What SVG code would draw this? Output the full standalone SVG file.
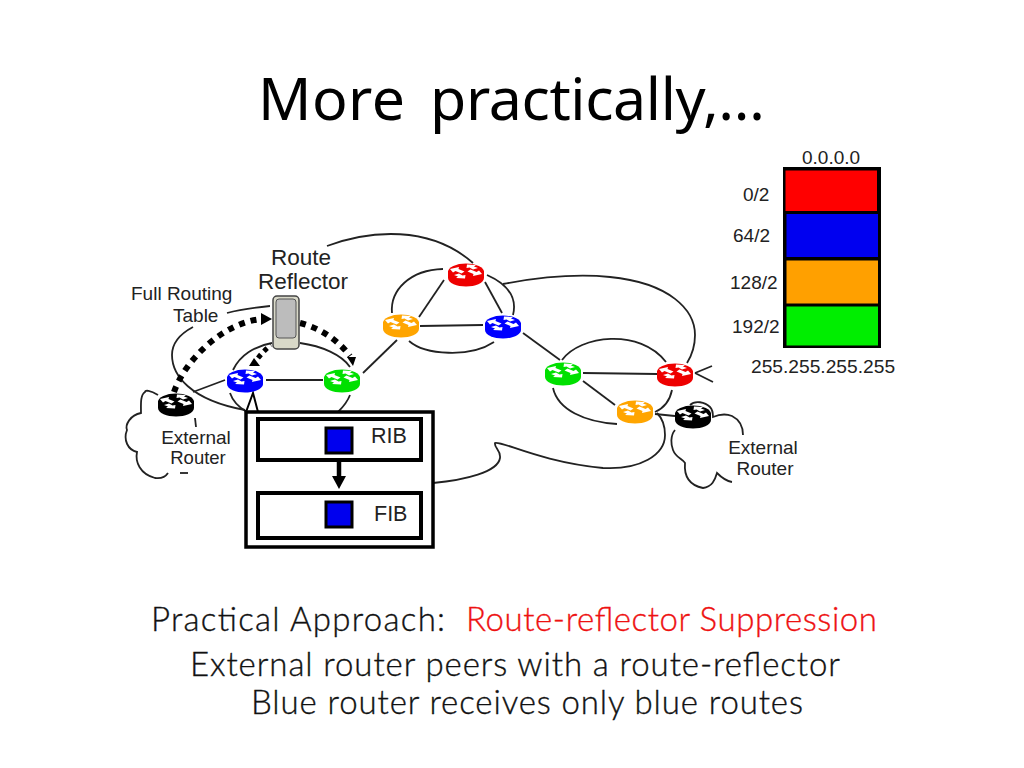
<svg xmlns="http://www.w3.org/2000/svg" width="1024" height="768" viewBox="0 0 1024 768">
<style>
.l{font-family:"Liberation Sans",Arial,sans-serif;fill:#222}
.s{font-size:19px}
.b{font-family:Lato,"Noto Sans",sans-serif;font-size:33px;font-weight:300;fill:#111;stroke:#111;stroke-width:0.350}
.c{fill:none;stroke:#222;stroke-width:1.800}
.d{fill:none;stroke:#000;stroke-width:6;stroke-dasharray:6 6}
.h{fill:#000}
</style>
<defs>
<g id="router">
<path d="M-18,-4 V3 C-18,8 -9,11.500 0,11.500 C9,11.500 18,8 18,3 V-4 Z" fill="currentColor"/>
<ellipse cx="0" cy="-3" rx="18" ry="8.500" fill="currentColor"/>
<path d="M-16,-6 L-7,-8 L-7.500,-6 L-1.500,-3.500 L-4.500,-1.500 L-10.500,-4 L-13,-2.500 Z M16,-1 L7,1 L7.500,-1 L1.500,-3.500 L4.500,-5.500 L10.500,-3 L13,-4.500 Z M1,-10.500 L10,-10 L8,-8.500 L12,-7 L7,-5.500 L3.500,-7.500 L0.500,-7 Z M-1,3.500 L-10,3 L-8,1.500 L-12,0 L-7,-1.500 L-3.500,0.500 L-0.500,0 Z" fill="#fff"/>
</g>
</defs>
<text font-family="'Noto Sans','Open Sans',sans-serif" font-size="59" fill="#000" y="120"><tspan x="258" textLength="147" lengthAdjust="spacing">More</tspan> <tspan x="430" textLength="335" lengthAdjust="spacing">practically,…</tspan></text>
<g id="connectors">
<path class="c" d="M327,246 C370,230 430,225 473,263"/>
<path class="c" d="M392,313 C390,290 410,270 443,269"/>
<path class="c" d="M419,317 L444,280"/>
<path class="c" d="M420,326 L483,325"/>
<path class="c" d="M485,282 L502,313"/>
<path class="c" d="M487,275 C505,283 518,295 513,315"/>
<path class="c" d="M409,341 C425,355 470,358 494,342"/>
<path class="c" d="M503,284 C540,277 580,274 610,277 C670,283 695,310 695,335 C695,345 692,355 687,363"/>
<path class="c" d="M523,333 L560,360"/>
<path class="c" d="M562,360 C580,335 640,328 666,362"/>
<path class="c" d="M583,373 L657,374"/>
<path class="c" d="M583,381 L615,405"/>
<path class="c" d="M553,388 C558,410 585,422 617,424"/>
<path class="c" d="M672,390 C670,400 664,408 655,412"/>
<path class="c" d="M655,414 L675,416"/>
<path class="c" d="M695,373 L712,366 M695,373 L713,382"/>
<path class="c" d="M433,483 C465,480 498,472 500,458 C501,450 494,448 495,443 C500,440 540,462 603,468 C640,470 665,455 665,435 C665,425 662,418 657,413"/>
<path class="c" d="M363,373 L397,340"/>
<path class="c" d="M266,380 L323,380"/>
<path class="c" d="M193,392 L225,380"/>
<path class="c" d="M233,370 C240,355 255,346 272,343"/>
<path class="c" d="M300,343 C322,346 342,355 350,367"/>
<path class="c" d="M230,393 C233,402 240,408 247,412"/>
<path class="c" d="M350,395 C347,403 342,408 338,412"/>
<path class="c" d="M270,306 C250,308 238,310 227,313"/>
<path class="c" d="M193,327 C178,335 172,345 172,355 C172,375 190,400 245,410"/>
<path class="c" d="M195,418 L196,427"/>
<path class="c" d="M158,395 C150,390 145,390 145,392 C140,395 141,405 141,413 C130,415 125,425 127,430 C123,440 128,450 137,452 C135,462 140,474 155,478 C162,479 166,476 168,473"/>
<path class="c" d="M180,473 L188,473"/>
<path class="c" d="M675,430 C670,436 671,445 673,450 C676,458 682,458 685,463 C684,475 688,485 703,488 C712,487 715,480 717,473 C722,478 726,481 732,482"/>
<path class="c" d="M690,405 C695,400 705,402 710,407 C713,410 713,414 713,417 C720,414 727,414 732,416 C740,420 743,428 743,435"/>
<path class="d" d="M174,392 C186,358 225,322 262,319"/>
<path class="h" d="M261,313 L272,319 L261,325 Z"/>
<path class="d" d="M300,323 C320,328 338,340 350,356"/>
<path class="h" d="M347,357 L356,357 L353,366 Z"/>
<path class="d" d="M258,358 C262,353 266,349 271,345" style="stroke-width:5;stroke-dasharray:4.500 4.500"/>
<path class="h" d="M249,366 L254,358 L260,366 Z"/>
<path class="c" d="M246,412 L253,393 L258,412" style="stroke:#000;stroke-width:2"/>
</g>
<g id="route-reflector">
<rect x="273" y="296" width="26" height="53" rx="4" fill="#d8d8c8" stroke="#444" stroke-width="1.500"/>
<rect x="276" y="299" width="20" height="39" rx="3" fill="#bcbcbc" stroke="#555" stroke-width="1"/>
<text class="l" x="301" y="265" font-size="22.500" text-anchor="middle">Route</text>
<text class="l" x="303" y="289" font-size="22.500" text-anchor="middle">Reflector</text>
</g>
<g id="router-blue1" transform="translate(245,381)" color="#0000ff"><use href="#router"/></g>
<g id="router-green1" transform="translate(342,381)" color="#00e000"><use href="#router"/></g>
<g id="router-orange1" transform="translate(401,326)" color="#ffa500"><use href="#router"/></g>
<g id="router-red1" transform="translate(466,275)" color="#ee0000"><use href="#router"/></g>
<g id="router-blue2" transform="translate(503,327)" color="#0000ff"><use href="#router"/></g>
<g id="router-green2" transform="translate(563,374)" color="#00e000"><use href="#router"/></g>
<g id="router-red2" transform="translate(675,375)" color="#ee0000"><use href="#router"/></g>
<g id="router-orange2" transform="translate(635,412)" color="#ffa500"><use href="#router"/></g>
<g id="router-black2" transform="translate(693,417)" color="#000"><use href="#router"/></g>
<g id="router-black1" transform="translate(176,405)" color="#000"><use href="#router"/></g>
<g id="labels">
<text class="l s" x="131" y="300">Full Routing</text>
<text class="l s" x="173" y="322">Table</text>
<text class="l s" x="196" y="444" text-anchor="middle">External</text>
<text class="l" font-size="18.500" x="198" y="464" text-anchor="middle">Router</text>
<text class="l s" x="763" y="454" text-anchor="middle">External</text>
<text class="l s" x="765" y="475" text-anchor="middle">Router</text>
</g>
<g id="rib-fib">
<rect x="246" y="412" width="187" height="135" fill="#fff" stroke="#000" stroke-width="3.500"/>
<rect x="258" y="419" width="163" height="41" fill="#fff" stroke="#000" stroke-width="4"/>
<rect x="258" y="493" width="163" height="45" fill="#fff" stroke="#000" stroke-width="4"/>
<rect x="326" y="428" width="26" height="25" fill="#0000ee" stroke="#000" stroke-width="3"/>
<rect x="326" y="502" width="26" height="25" fill="#0000ee" stroke="#000" stroke-width="3"/>
<path d="M339,460 V478" stroke="#000" stroke-width="4.500" fill="none"/>
<path class="h" d="M332,476 H346 L339,489 Z"/>
<text class="l" x="371" y="443" font-size="21.500">RIB</text>
<text class="l" x="374" y="521" font-size="21.500">FIB</text>
</g>
<g id="address-space">
<rect x="783" y="167" width="98" height="181" fill="#000"/>
<rect x="785.500" y="170.500" width="91.500" height="40.500" fill="#ff0000"/>
<rect x="786.500" y="214" width="91.500" height="43" fill="#0000f0"/>
<rect x="786.500" y="260.500" width="91.500" height="43" fill="#ffa000"/>
<rect x="786.500" y="306.500" width="91.500" height="39" fill="#00ee00"/>
<text class="l s" x="802" y="164">0.0.0.0</text>
<text class="l s" x="743" y="201">0/2</text>
<text class="l s" x="733" y="242">64/2</text>
<text class="l s" x="730" y="289">128/2</text>
<text class="l s" x="732" y="333">192/2</text>
<text class="l" font-size="19.200" x="751" y="373">255.255.255.255</text>
</g>
<g id="caption">
<text class="b" x="151" y="631" textLength="294" lengthAdjust="spacing">Practical Approach:</text>
<text class="b" x="466" y="631" textLength="411" lengthAdjust="spacing" style="fill:#ee1111;stroke:#ee1111">Route-reflector Suppression</text>
<text class="b" x="190" y="676" textLength="650" lengthAdjust="spacing">External router peers with a route-reflector</text>
<text class="b" x="251" y="714" textLength="552" lengthAdjust="spacing">Blue router receives only blue routes</text>
</g>
</svg>
